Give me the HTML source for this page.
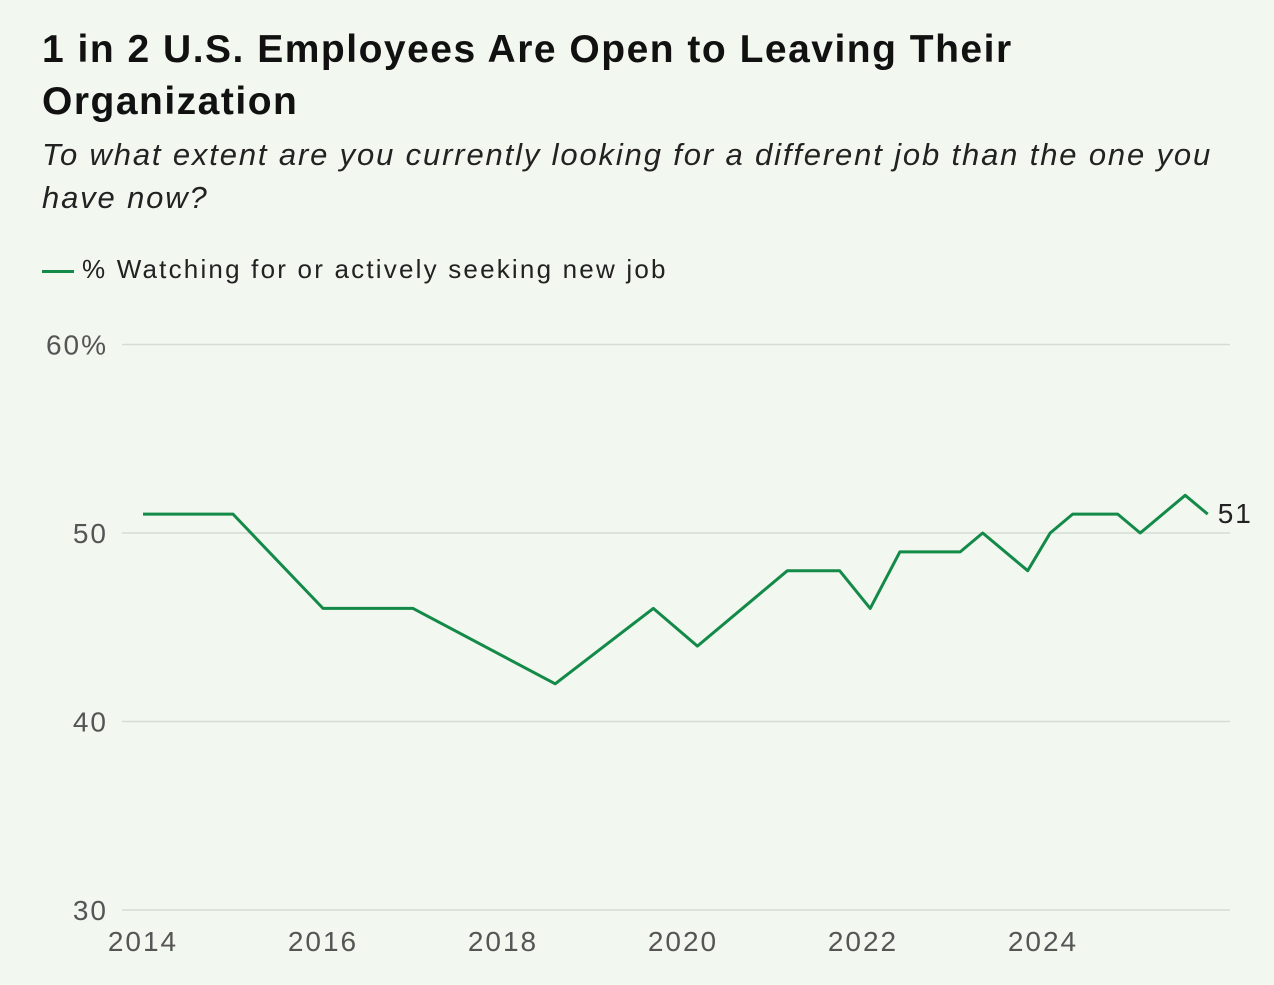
<!DOCTYPE html>
<html><head><meta charset="utf-8"><style>
body{margin:0;background:#f2f7f0;font-family:"Liberation Sans",sans-serif;}
#wrap{position:relative;width:1274px;height:985px;overflow:hidden;}
h1{position:absolute;left:42px;top:24px;margin:0;font-size:39px;line-height:52px;font-weight:bold;color:#111;letter-spacing:1.5px;white-space:nowrap;}
.sub{position:absolute;left:42px;top:133px;font-size:31px;line-height:43px;font-style:italic;color:#222;letter-spacing:1.85px;white-space:nowrap;}
.leg{position:absolute;left:42px;top:254px;font-size:26px;color:#222;letter-spacing:2.2px;white-space:nowrap;}
.leg span{display:inline-block;width:32px;height:3px;background:#138a47;vertical-align:middle;margin-right:8px;}
</style></head><body>
<div id="wrap">
<h1>1 in 2 U.S. Employees Are Open to Leaving Their<br>Organization</h1>
<div class="sub">To what extent are you currently looking for a different job than the one you<br>have now?</div>
<div class="leg"><span></span>% Watching for or actively seeking new job</div>
<svg id="chart" width="1274" height="985" style="position:absolute;left:0;top:0"></svg>
</div>
<script>
const years=[2014,2015,2016,2017,2018.58,2019.67,2020.16,2021.16,2021.74,2022.08,2022.41,2023.08,2023.33,2023.83,2024.08,2024.33,2024.83,2025.08,2025.58,2025.83];
const values=[51,51,46,46,42,46,44,48,48,46,49,49,50,48,50,51,51,50,52,51];
const yTicks=[30,40,50,60];
const yTickLabels=["30","40","50","60%"];
const xTicks=[2014,2016,2018,2020,2022,2024];
const NS="http://www.w3.org/2000/svg";
const svg=document.getElementById('chart');
function xs(v){return 143+(v-2014)*90;}
function ys(v){return 910-(v-30)*18.85;}
function mk(t,a){const e=document.createElementNS(NS,t);for(const k in a)e.setAttribute(k,a[k]);svg.appendChild(e);return e;}
yTicks.forEach((t,i)=>{
 const g=mk('line',{x1:122,x2:1230,y1:ys(t),y2:ys(t),stroke:'#d6dbd4','stroke-width':1.5});
 
 
 const l=mk('text',{x:108,y:ys(t)+10,'text-anchor':'end','font-size':28,'letter-spacing':2,fill:'#555','font-family':'Liberation Sans, sans-serif'});
 l.textContent=yTickLabels[i];
 
 
});
xTicks.forEach(t=>{
 const l=mk('text',{x:xs(t),y:951,'text-anchor':'middle','font-size':28,'letter-spacing':2,fill:'#555','font-family':'Liberation Sans, sans-serif'});
 l.textContent=t;
 
 
});
const p=mk('polyline',{points:years.map((y,i)=>xs(y)+','+ys(values[i])).join(' '),fill:'none',stroke:'#138a47','stroke-width':3,'stroke-linejoin':'round'});


const n=years.length-1;
const lb=mk('text',{x:xs(years[n])+10,y:ys(values[n])+9,'font-size':28,'letter-spacing':2,fill:'#222','font-family':'Liberation Sans, sans-serif'});
lb.textContent=values[n];


</script>
</body></html>
